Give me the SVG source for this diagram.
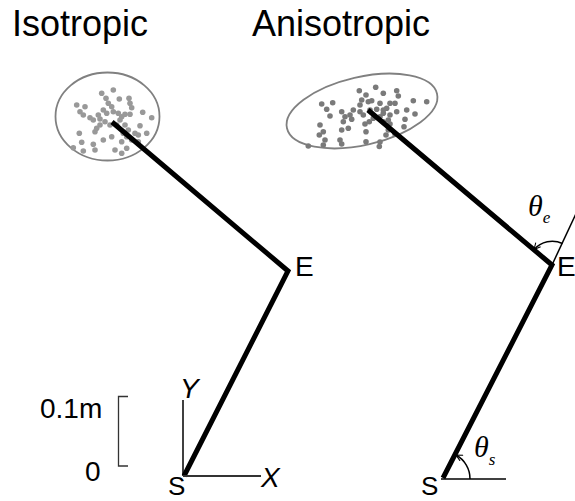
<svg xmlns="http://www.w3.org/2000/svg" width="575" height="501" viewBox="0 0 575 501">
<defs>
<style>
.t{font-family:"Liberation Sans",Arial,sans-serif;fill:#000}
.ti{font-size:36px}
.lb{font-size:28px}
.it{font-style:italic}
.th{font-family:"Liberation Serif","Times New Roman",serif;font-style:italic;fill:#000}
.arm{stroke:#000;stroke-width:5;fill:none;stroke-linecap:butt;stroke-linejoin:miter}
.thin{stroke:#000;stroke-width:1.5;fill:none}
.env{fill:none;stroke:#808080;stroke-width:1.8}
.dl circle{fill:#999}
.dr circle{fill:#7a7a7a}
</style>
<marker id="ah" viewBox="0 0 10 10" refX="9" refY="5" markerWidth="8" markerHeight="8" markerUnits="userSpaceOnUse" orient="auto">
<path d="M1 1 L9 5 L1 9" fill="none" stroke="#000" stroke-width="1.3"/>
</marker>
</defs>
<rect width="575" height="501" fill="#fff"/>

<g id="titles">
<text class="t ti" x="12" y="36">Isotropic</text>
<text class="t ti" x="252" y="36">Anisotropic</text>
</g>

<g id="left-cloud">
<ellipse class="env" cx="107.5" cy="116.5" rx="52" ry="44"/>
<g class="dl">
<circle cx="101.7" cy="93.3" r="2.8"/><circle cx="113.3" cy="90" r="2.8"/><circle cx="106" cy="98.3" r="2.8"/><circle cx="108.3" cy="103.3" r="2.8"/><circle cx="119.3" cy="99" r="2.8"/><circle cx="129" cy="98.3" r="2.8"/><circle cx="130" cy="103.3" r="2.8"/><circle cx="131.7" cy="107.7" r="2.8"/><circle cx="76.7" cy="105" r="2.8"/><circle cx="85" cy="106.7" r="2.8"/><circle cx="80" cy="111.7" r="2.8"/><circle cx="83.3" cy="115" r="2.8"/><circle cx="90" cy="117.7" r="2.8"/><circle cx="93.3" cy="120" r="2.8"/><circle cx="100" cy="119" r="2.8"/><circle cx="103.3" cy="110" r="2.8"/><circle cx="111.7" cy="106.7" r="2.8"/><circle cx="113.3" cy="111.7" r="2.8"/><circle cx="106.7" cy="113.3" r="2.8"/><circle cx="98.3" cy="115" r="2.8"/><circle cx="118.3" cy="113.3" r="2.8"/><circle cx="121.7" cy="116.7" r="2.8"/><circle cx="125" cy="114.3" r="2.8"/><circle cx="130" cy="114.3" r="2.8"/><circle cx="120" cy="120" r="2.8"/><circle cx="116.7" cy="125" r="2.8"/><circle cx="110" cy="125" r="2.8"/><circle cx="105" cy="121.7" r="2.8"/><circle cx="100" cy="125" r="2.8"/><circle cx="96.7" cy="128.3" r="2.8"/><circle cx="95" cy="131.7" r="2.8"/><circle cx="125" cy="125" r="2.8"/><circle cx="128.3" cy="130" r="2.8"/><circle cx="123.3" cy="133.3" r="2.8"/><circle cx="126.7" cy="136.7" r="2.8"/><circle cx="121.7" cy="141.7" r="2.8"/><circle cx="131.7" cy="140" r="2.8"/><circle cx="138.3" cy="135" r="2.8"/><circle cx="146.7" cy="133.3" r="2.8"/><circle cx="140" cy="125.7" r="2.8"/><circle cx="142.7" cy="112.3" r="2.8"/><circle cx="151.7" cy="117.7" r="2.8"/><circle cx="79.3" cy="133.3" r="2.8"/><circle cx="81.7" cy="142.3" r="2.8"/><circle cx="73.3" cy="147.7" r="2.8"/><circle cx="83.3" cy="151" r="2.8"/><circle cx="93.3" cy="144.3" r="2.8"/><circle cx="95" cy="150" r="2.8"/><circle cx="103.3" cy="140" r="2.8"/><circle cx="111.7" cy="136.7" r="2.8"/><circle cx="115" cy="150" r="2.8"/><circle cx="121.7" cy="153.3" r="2.8"/><circle cx="126.7" cy="148.3" r="2.8"/><circle cx="135" cy="133.3" r="2.8"/><circle cx="138.3" cy="141.7" r="2.8"/>
</g>
</g>

<g id="right-cloud">
<ellipse class="env" cx="362" cy="111" rx="77" ry="34" transform="rotate(-13 362 111)"/>
<g class="dr">
<circle cx="359.3" cy="90.7" r="2.8"/><circle cx="375.7" cy="87.3" r="2.8"/><circle cx="383.3" cy="93.3" r="2.8"/><circle cx="396.7" cy="90.7" r="2.8"/><circle cx="398.3" cy="96" r="2.8"/><circle cx="366" cy="95" r="2.8"/><circle cx="361.7" cy="100" r="2.8"/><circle cx="360" cy="105" r="2.8"/><circle cx="368.3" cy="101.7" r="2.8"/><circle cx="371.7" cy="100.7" r="2.8"/><circle cx="380" cy="103.3" r="2.8"/><circle cx="390" cy="103.3" r="2.8"/><circle cx="386.7" cy="108.3" r="2.8"/><circle cx="383.3" cy="110" r="2.8"/><circle cx="395" cy="103.3" r="2.8"/><circle cx="413.3" cy="100.7" r="2.8"/><circle cx="426.7" cy="101.7" r="2.8"/><circle cx="321.7" cy="104" r="2.8"/><circle cx="332.7" cy="102.7" r="2.8"/><circle cx="326.7" cy="109.3" r="2.8"/><circle cx="330" cy="116" r="2.8"/><circle cx="341.7" cy="111.7" r="2.8"/><circle cx="345" cy="116.7" r="2.8"/><circle cx="350" cy="115" r="2.8"/><circle cx="353.3" cy="110" r="2.8"/><circle cx="351.7" cy="119.3" r="2.8"/><circle cx="360" cy="111.7" r="2.8"/><circle cx="363.3" cy="115" r="2.8"/><circle cx="370" cy="110" r="2.8"/><circle cx="376.7" cy="109.3" r="2.8"/><circle cx="383.3" cy="113.3" r="2.8"/><circle cx="390" cy="115" r="2.8"/><circle cx="396.7" cy="111.7" r="2.8"/><circle cx="388.3" cy="120" r="2.8"/><circle cx="390" cy="124" r="2.8"/><circle cx="406.7" cy="110" r="2.8"/><circle cx="415" cy="114" r="2.8"/><circle cx="405" cy="119.3" r="2.8"/><circle cx="404" cy="126.7" r="2.8"/><circle cx="365" cy="124" r="2.8"/><circle cx="369.3" cy="121.7" r="2.8"/><circle cx="373.3" cy="118.3" r="2.8"/><circle cx="380" cy="116.7" r="2.8"/><circle cx="383.3" cy="121.7" r="2.8"/><circle cx="343.3" cy="121.7" r="2.8"/><circle cx="348.3" cy="128.3" r="2.8"/><circle cx="341.7" cy="130" r="2.8"/><circle cx="320" cy="125" r="2.8"/><circle cx="323.3" cy="131.7" r="2.8"/><circle cx="319.3" cy="135" r="2.8"/><circle cx="325" cy="140" r="2.8"/><circle cx="308.3" cy="146" r="2.8"/><circle cx="323.3" cy="145" r="2.8"/><circle cx="340" cy="140" r="2.8"/><circle cx="341.7" cy="144" r="2.8"/><circle cx="366" cy="131.7" r="2.8"/><circle cx="366" cy="141.7" r="2.8"/><circle cx="380" cy="142" r="2.8"/><circle cx="379.3" cy="146.5" r="2.8"/><circle cx="388.3" cy="130" r="2.8"/><circle cx="386" cy="135" r="2.8"/><circle cx="395" cy="134" r="2.8"/>
</g>
</g>

<g id="connectors">
<polyline class="arm" points="112,122 288,271 184,476"/>
<polyline class="arm" points="368,110 552,265 443,478"/>
<line class="thin" x1="183" y1="400" x2="183" y2="476"/>
<line x1="183" y1="476" x2="261" y2="476" stroke="#333" stroke-width="2"/>
<line class="thin" x1="441" y1="479" x2="506" y2="479"/>
<line class="thin" x1="552" y1="265" x2="580" y2="205"/>
<path class="thin" d="M470 479 A27 27 0 0 0 456 455" marker-end="url(#ah)"/>
<path class="thin" d="M562.5 243.5 A24 24 0 0 0 534 249.5" marker-end="url(#ah)"/>
</g>

<g id="scale-bar">
<path d="M128 396.5 H118.5 V466 H128" fill="none" stroke="#333" stroke-width="1.3"/>
<text class="t lb" x="40" y="418">0.1m</text>
<text class="t lb" x="85" y="481">0</text>
</g>

<g id="left-S"><text class="t" font-size="26" x="168" y="495">S</text></g>
<g id="left-E"><text class="t lb" x="295" y="276">E</text></g>
<g id="axis-Y"><text class="t lb it" x="180" y="398">Y</text></g>
<g id="axis-X"><text class="t lb it" x="261" y="487">X</text></g>
<g id="right-S"><text class="t" font-size="26" x="421" y="495">S</text></g>
<g id="right-E"><text class="t lb" x="557" y="276">E</text></g>
<g id="theta-e"><text class="th" x="528" y="216" font-size="30">θ<tspan font-size="17" dy="7">e</tspan></text></g>
<g id="theta-s"><text class="th" x="474" y="457" font-size="30">θ<tspan font-size="17" dy="8">s</tspan></text></g>
</svg>
